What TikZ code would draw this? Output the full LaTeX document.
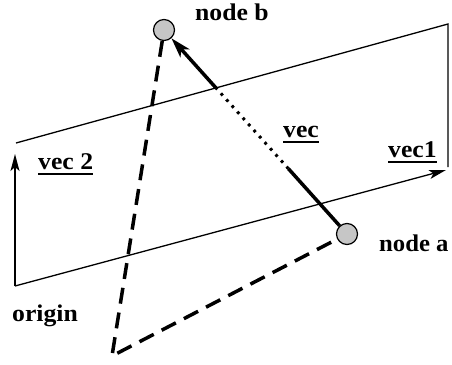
\documentclass[tikz,border=0pt]{standalone}
\usepackage{fontspec}
\setmainfont{Liberation Serif}[BoldFont={Liberation Serif Bold}]
\usetikzlibrary{arrows.meta,calc}
\newcommand\hs[1]{\scalebox{1.07}[1]{#1}}
\newcommand\myul[1]{\setbox0\hbox{#1}\rlap{\vrule height -4pt depth 6pt width \wd0}\box0}
\begin{document}
\begin{tikzpicture}[x=1pt,y=-1pt,
  lbl/.style={anchor=base west, inner sep=0pt, font=\fontsize{24}{24}\selectfont\bfseries},
  pt/.style={circle, draw, fill=gray!45, line width=1.2pt, minimum size=21pt, inner sep=0pt},
  edge/.style={line width=1.3pt},
  thinarrow/.style={edge, -{Stealth[length=17pt,width=9pt,inset=4pt]}},
  vecline/.style={line width=3.5pt},
  vecarrow/.style={vecline, -{Stealth[length=20pt,width=12pt,inset=5pt]}},
  dotline/.style={line width=3pt, dash pattern=on 2.8pt off 5.4pt},
  dashline/.style={line width=3.5pt, dash pattern=on 16pt off 9pt, line join=miter}
]
\useasboundingbox (0,0) rectangle (452,364);
\coordinate (org) at (15,286);
\coordinate (tl) at (16,143);
\coordinate (tr) at (448,24);
\coordinate (br) at (448,167);
\coordinate (v2tip) at (15,154);
\coordinate (v1tip) at (446,170);
\coordinate (O) at (112,356);
\node[pt] (a) at (347,234) {};
\node[pt] (b) at (164,30) {};
\draw[edge] (tl) -- (tr) -- (br);
\draw[thinarrow] (org) -- (v2tip);
\draw[thinarrow] (org) -- (v1tip);
\coordinate (p1) at ($(a)!0.32!(b)$);
\coordinate (p2) at (intersection of a--b and tl--tr);
\draw[vecline] (a) -- (p1);
\draw[dotline] (p1) -- (p2);
\draw[vecarrow] (p2) -- (b);
\draw[dashline] (b) -- (O) -- (a);
\node[lbl] (lb) at (195,20) {\hs{node b}};
\node[lbl] (la) at (379,251) {\scalebox{1.03}[1]{node a}};
\node[lbl] (lo) at (12,321) {\hs{origin}};
\node[lbl] (l2) at (38,169) {\hs{\myul{vec 2}}};
\node[lbl] (l1) at (388,157) {\hs{\myul{vec1}}};
\node[lbl] (lv) at (283,137) {\hs{\myul{vec}}};
\end{tikzpicture}
\end{document}
